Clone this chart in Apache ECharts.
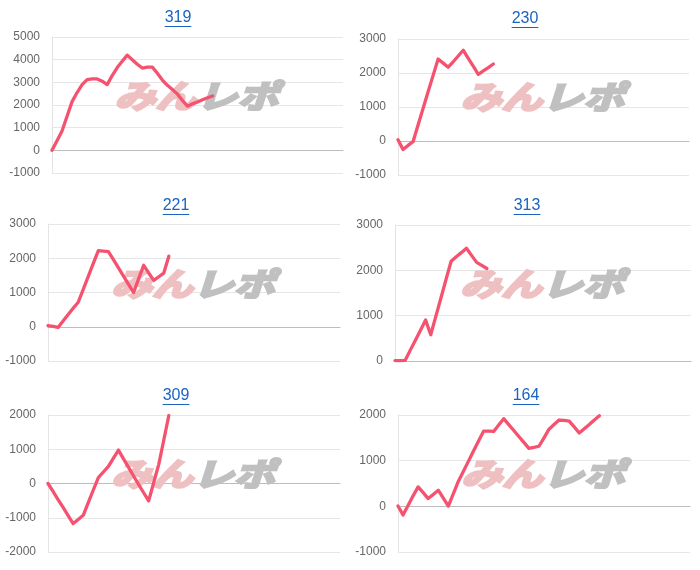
<!DOCTYPE html>
<html>
<head>
<meta charset="utf-8">
<script src="https://cdn.jsdelivr.net/npm/echarts@6/dist/echarts.min.js"></script>
<style>
html,body{margin:0;padding:0;background:#fff;}
#c{width:700px;height:570px;}
</style>
</head>
<body>
<div id="c"></div>
<script>
// x slots (hidden tick labels)
const cats = ['1','2','3','4','5','6','7','8','9','10','11','12','13','14','15','16','17','18','19','20',
  '21','22','23','24','25','26','27','28','29','30','31','32','33','34','35','36','37','38','39','40',
  '41','42','43','44','45','46','47','48','49','50','51','52','53','54','55','56','57','58','59'];

const titles = ['319', '230', '221', '313', '309', '164'];

const s319 = [0, 420, 850, 1500, 2150, 2550, 2900, 3120, 3150, 3150, 3050, 2900, 3300, 3650, 3930, 4200,
  4000, 3800, 3630, 3670, 3670, 3400, 3100, 2870, 2680, 2480, 2200, 1950, 2050, 2130, 2230, 2320, 2400];
const s230 = [40, -250, -130, -20, 470, 960, 1450, 1930, 2410, 2290, 2170, 2330, 2500, 2670, 2430, 2200,
  1960, 2060, 2160, 2265];
const s221 = [30, 10, -20, 170, 360, 540, 715, 1090, 1470, 1850, 2220, 2210, 2195, 1960, 1720, 1480,
  1240, 1000, 1400, 1794, 1570, 1353, 1460, 1568, 2060];
const s313 = [10, 10, 15, 240, 460, 680, 905, 580, 985, 1390, 1800, 2200, 2300, 2390, 2486, 2330, 2175,
  2110, 2040];
const s309 = [0, -230, -470, -700, -940, -1170, -1050, -928, -560, -190, 170, 335, 500, 740, 975, 720,
  470, 220, -30, -270, -505, 30, 560, 1270, 1985];
const s164 = [7, -190, 20, 230, 426, 300, 170, 260, 353, 180, 7, 280, 550, 770, 990, 1210, 1430, 1645,
  1645, 1640, 1780, 1920, 1790, 1660, 1530, 1400, 1270, 1290, 1316, 1500, 1690, 1790, 1890, 1880, 1865,
  1740, 1607, 1700, 1790, 1890, 1982];

const yMins = [-1000, -1000, -1000, 0, -2000, -1000];
const yMaxs = [5000, 3000, 3000, 3000, 2000, 2000];
const seriesData = [s319, s230, s221, s313, s309, s164];

// layout
const grids = [
  {left: 52, top: 37, width: 291, height: 136},
  {left: 398, top: 39, width: 291, height: 136},
  {left: 48, top: 224, width: 292, height: 137},
  {left: 395, top: 225, width: 296, height: 136},
  {left: 48, top: 415, width: 292, height: 137},
  {left: 398, top: 415, width: 292, height: 137}
];
const titlePos = [[178, 19], [525, 20], [176, 207], [527, 207], [176, 397], [526, 397]];

const LINE = 'rgb(245, 82, 112)';
const TITLE_COLOR = '#1a64c0';
const TITLE_FONT = '16px "Liberation Sans", Arial, sans-serif';

const mctx = document.createElement('canvas').getContext('2d');
mctx.font = TITLE_FONT;

const chart = echarts.init(document.getElementById('c'), null, {renderer: 'canvas'});

const xAxes = [], yAxes = [], series = [], graphics = [];
grids.forEach((g, i) => {
  xAxes.push({
    type: 'category', gridIndex: i, data: cats, boundaryGap: false,
    axisLabel: {show: false}, axisTick: {show: false},
    axisLine: {show: true, onZero: true, lineStyle: {color: '#bdbdbd', width: 1}},
    splitLine: {show: false}
  });
  yAxes.push({
    type: 'value', gridIndex: i, min: yMins[i], max: yMaxs[i], interval: 1000,
    axisLabel: {color: '#666', fontSize: 12, fontFamily: '"Liberation Sans", Arial, sans-serif', margin: 12,
      formatter: v => String(v)},
    axisLine: {show: true, lineStyle: {color: '#e4e4e4'}},
    axisTick: {show: false},
    splitLine: {show: true, lineStyle: {color: '#e6e6e6', width: 1}}
  });
  series.push({
    type: 'line', xAxisIndex: i, yAxisIndex: i, data: seriesData[i],
    symbol: 'none', showSymbol: false, smooth: false, z: 5,
    lineStyle: {color: LINE, width: 3.3, join: 'round', cap: 'round'},
    itemStyle: {color: LINE}
  });
  const [tx, ty] = titlePos[i];
  const w = mctx.measureText(titles[i]).width;
  graphics.push({
    type: 'text', left: tx - w / 2, top: ty - 9, z: 10,
    style: {text: titles[i], font: TITLE_FONT, fill: TITLE_COLOR}
  });
  graphics.push({
    type: 'rect', shape: {x: tx - w / 2, y: ty + 7, width: w, height: 1}, z: 10,
    style: {fill: TITLE_COLOR}
  });
  // watermark
  const cx = g.left + g.width / 2 - 1;
  const cy = ty + 77;
  graphics.push({
    type: 'text', x: cx, y: cy, scaleX: 1.28, scaleY: 1, z: 1, silent: true,
    style: {
      text: '{a|みん}{b|レポ}',
      align: 'center', verticalAlign: 'middle',
      rich: {
        a: {fill: '#eec0c1', stroke: '#eec0c1', lineWidth: 2.5,
            font: 'italic bold 32px "Noto Sans CJK JP"'},
        b: {fill: '#c0c0c0', stroke: '#c0c0c0', lineWidth: 2.5,
            font: 'italic bold 32px "Noto Sans CJK JP"'}
      }
    }
  });
});

chart.setOption({
  backgroundColor: '#fff',
  animation: false,
  grid: grids,
  xAxis: xAxes,
  yAxis: yAxes,
  series: series,
  graphic: graphics
});
</script>
</body>
</html>
